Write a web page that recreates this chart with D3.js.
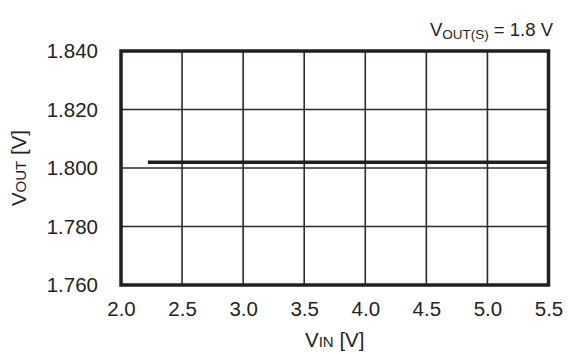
<!DOCTYPE html>
<html><head><meta charset="utf-8">
<script src="https://cdn.jsdelivr.net/npm/d3@7"></script>
<style>body{margin:0;background:#fff}svg{display:block}text{font-family:"Liberation Sans",Arial,sans-serif;fill:#231f20}</style>
</head><body>
<svg id="c" width="568" height="354"></svg>
<script>
const xTicks = [2.0, 2.5, 3.0, 3.5, 4.0, 4.5, 5.0, 5.5];
const yTicks = [1.760, 1.780, 1.800, 1.820, 1.840];
const vin = [2.22, 5.5];
const vout = [1.802, 1.802];

const svg = d3.select("#c");
const L = 121, R = 548.5, T = 51, B = 285;
const x = d3.scaleLinear().domain([2.0, 5.5]).range([L, R]);
const y = d3.scaleLinear().domain([1.760, 1.840]).range([B, T]);
const ink = "#231f20";
const FS = 20.5;

// grid
svg.append("g").selectAll("line").data(xTicks).join("line")
  .attr("x1", d => x(d)).attr("x2", d => x(d)).attr("y1", T).attr("y2", B)
  .attr("stroke", "#2a2a2a").attr("stroke-width", 1.6);
svg.append("g").selectAll("line").data(yTicks).join("line")
  .attr("y1", d => y(d)).attr("y2", d => y(d)).attr("x1", L).attr("x2", R)
  .attr("stroke", "#2a2a2a").attr("stroke-width", 1.6);

// data line
const line = d3.line().x(d => x(d[0])).y(d => y(d[1]));
svg.append("path").datum(vin.map((v, i) => [v, vout[i]]))
  .attr("d", line).attr("fill", "none").attr("stroke", ink).attr("stroke-width", 3.5);

// frame
svg.append("rect").attr("x", L).attr("y", T).attr("width", R - L).attr("height", B - T)
  .attr("fill", "none").attr("stroke", ink).attr("stroke-width", 3.5);

// axes labels via d3 axes
const xAxis = d3.axisBottom(x).tickValues(xTicks).tickFormat(d3.format(".1f")).tickSize(0).tickPadding(0);
const gx = svg.append("g").attr("transform", `translate(0,${B + 16})`).call(xAxis);
gx.select(".domain").remove();
gx.selectAll("text").attr("font-size", FS).attr("fill", ink).attr("font-family", "Liberation Sans, Arial, sans-serif");

const yAxis = d3.axisLeft(y).tickValues(yTicks).tickFormat(d3.format(".3f")).tickSize(0).tickPadding(0);
const gy = svg.append("g").attr("transform", `translate(${L - 23},0)`).call(yAxis);
gy.select(".domain").remove();
gy.selectAll("text").attr("font-size", FS).attr("fill", ink).attr("font-family", "Liberation Sans, Arial, sans-serif");

// x title
const xt = svg.append("text").attr("x", x(3.75)).attr("y", 347).attr("text-anchor", "middle").attr("font-size", FS);
xt.append("tspan").text("V");
xt.append("tspan").attr("font-size", 15).text("IN");
xt.append("tspan").text(" [V]");

// y title
const yt = svg.append("text").attr("transform", `translate(26,${y(1.80)}) rotate(-90)`).attr("text-anchor", "middle").attr("font-size", FS);
yt.append("tspan").text("V");
yt.append("tspan").attr("font-size", 15).text("OUT");
yt.append("tspan").text(" [V]");

// condition label
const cl = svg.append("text").attr("x", 553).attr("y", 36).attr("text-anchor", "end").attr("font-size", 18.5);
cl.append("tspan").text("V");
cl.append("tspan").attr("font-size", 13.5).attr("dy", 3).text("OUT(S)");
cl.append("tspan").attr("dy", -3).text(" = 1.8 V");
</script>
</body></html>
